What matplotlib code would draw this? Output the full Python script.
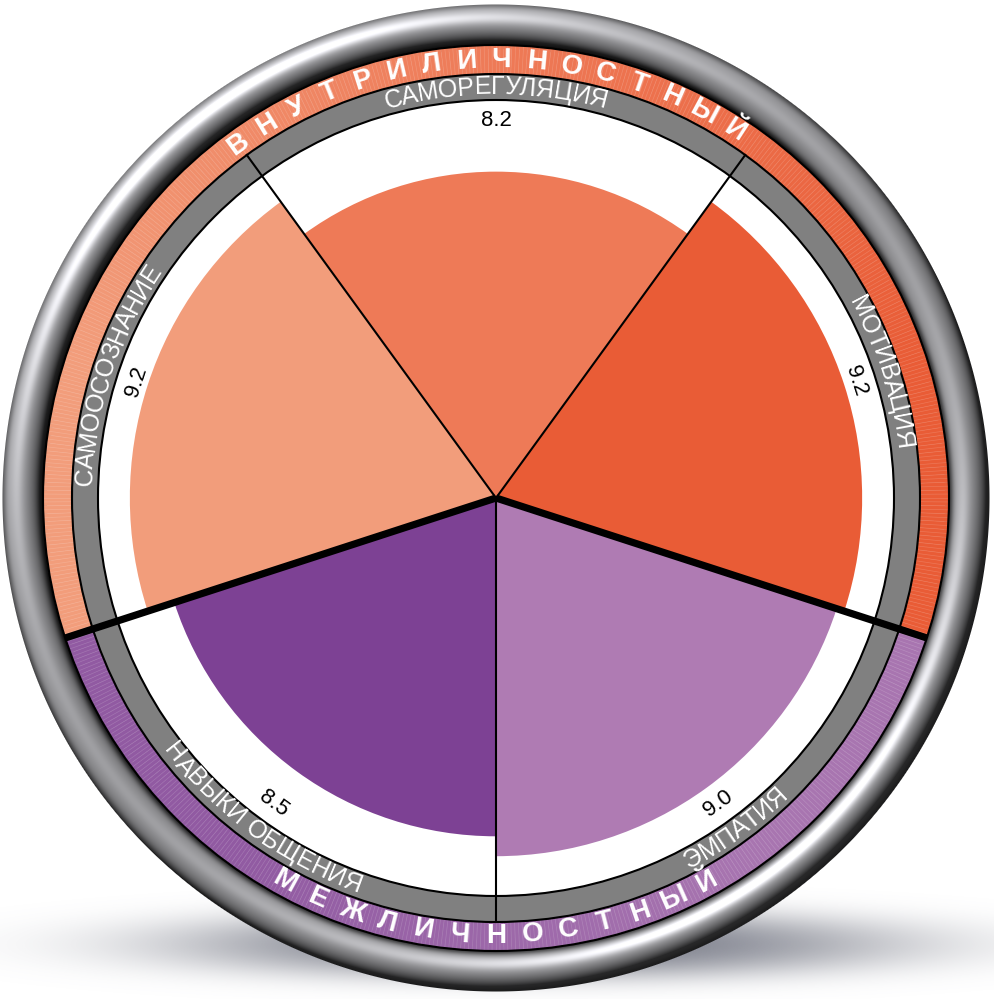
import numpy as np
import matplotlib.pyplot as plt
from matplotlib.patches import Wedge, Circle
from matplotlib.collections import LineCollection
from matplotlib.font_manager import FontProperties
from matplotlib.colors import to_rgb

# Daten
CATEGORIES = ["САМОРЕГУЛЯЦИЯ", "МОТИВАЦИЯ", "ЭМПАТИЯ", "НАВЫКИ ОБЩЕНИЯ", "САМООСОЗНАНИЕ"]
VALUES = [8.2, 9.2, 9.0, 8.5, 9.2]
COLORS = ["#EE7A57", "#E95C36", "#AF7BB3", "#7D4194", "#F29D7B"]
GROUPS = ["ВНУТРИЛИЧНОСТНЫЙ", "МЕЖЛИЧНОСТНЫЙ"]
GROUP_OF = [0, 0, 1, 1, 0]
VALUE_MAX = 10.0

# Geometrie in Pixeln, Mitte = (0, 0)
R_MAX = 398
R_GRAY = 424
R_RING = 453
R_BEZEL = 494
R_VALUE = 378
R_LABEL = 411
R_GROUP = 438

N = len(CATEGORIES)
STEP = 360.0 / N
MIDS = [i * STEP for i in range(N)]   # im Uhrzeigersinn ab oben


def pos(theta, r):
    t = np.radians(theta)
    return r * np.sin(t), r * np.cos(t)


def is_flipped(theta):
    return 90 < theta % 360 < 270


fig = plt.figure(figsize=(9.95, 9.99), dpi=100)
ax = fig.add_axes([0, 0, 1, 1])
renderer = fig.canvas.get_renderer()


def text_width(s, fp):
    return renderer.get_text_width_height_descent(s, fp, ismath=False)[0]


# Schatten unten
xs = np.linspace(-496, 499, 600)
ys = np.linspace(-501, 498, 600)
X, Y = np.meshgrid(xs, ys)
d2 = ((X - 40) / 490) ** 2 + ((Y + 447) / 46) ** 2
shadow = np.zeros((600, 600, 4))
shadow[..., :3] = np.array([112, 115, 128]) / 255
shadow[..., 3] = 0.9 * np.exp(-2.3 * d2 ** 1.4)
ax.imshow(shadow, extent=(-496, 499, -501, 498), origin="lower", zorder=0, interpolation="bilinear")

# Metallring
xs = np.linspace(-500, 500, 1000)
X, Y = np.meshgrid(xs, xs)
R = np.hypot(X, Y) + 1e-9
ux, uy = X / R, Y / R
t = np.clip((R - R_RING) / (R_BEZEL - R_RING), 0, 1)
s = 2 * t - 1
nz = np.sqrt(np.clip(1 - s ** 2, 0, 1))
L = np.array([-0.45, 0.6, 0.66])
L = L / np.linalg.norm(L)
ndl = s * ux * L[0] + s * uy * L[1] + nz * L[2]
H = L + np.array([0, 0, 1.0])
H = H / np.linalg.norm(H)
ndh = s * ux * H[0] + s * uy * H[1] + nz * H[2]
shade = 0.16 + 0.64 * np.clip(ndl, 0, 1) + 0.4 * np.clip(ndh, 0, 1) ** 25
shade *= 1 - 0.65 * np.exp(-(t / 0.12) ** 2)
shade *= 1 - 0.3 * np.exp(-((1 - t) / 0.1) ** 2)
bezel = np.zeros((1000, 1000, 4))
bezel[..., 0] = np.clip(shade, 0, 1)
bezel[..., 1] = np.clip(shade, 0, 1)
bezel[..., 2] = np.clip(shade * 1.02, 0, 1)
bezel[..., 3] = np.clip(R_BEZEL - R + 0.5, 0, 1) * np.clip(R - (R_RING - 4), 0, 1)
ax.imshow(bezel, extent=(-500, 500, -500, 500), origin="lower", zorder=1, interpolation="bilinear")

# Grundflächen
ax.add_patch(Circle((0, 0), R_MAX, facecolor="white", edgecolor="none", zorder=2))
ax.add_patch(Wedge((0, 0), R_GRAY, 0, 360, width=R_GRAY - R_MAX, facecolor="#808080",
                   edgecolor="none", zorder=2))

# farbiger Außenring, Verlauf pro Gruppe
group_info = []
for g in range(len(GROUPS)):
    idx = [i for i in range(N) if GROUP_OF[i] == g]
    a = np.radians([MIDS[i] for i in idx])
    center = np.degrees(np.arctan2(np.sin(a).sum(), np.cos(a).sum())) % 360
    rel = [((MIDS[i] - center + 180) % 360) - 180 for i in idx]
    order = np.argsort(rel)
    rel = np.array(rel)[order]
    cols = np.array([to_rgb(COLORS[idx[k]]) for k in order])
    if g == 1:
        cols = 0.5 * cols + 0.5 * cols.mean(axis=0)
        cols = 0.94 * cols + 0.06
    span = len(idx) * STEP
    group_info.append((center, span))
    for phi in np.arange(-span / 2, span / 2, 1.0):
        c = [np.interp(phi + 0.5, rel, cols[:, k]) for k in range(3)]
        th1 = 90 - (center + phi + 1.0)
        ax.add_patch(Wedge((0, 0), R_RING, th1, th1 + 1.0, width=R_RING - R_GRAY,
                           facecolor=c, edgecolor=c, linewidth=0.4, zorder=2))

# feine Streifen im Außenring
segs = []
for phi in np.arange(0, 360, 0.5):
    segs.append([pos(phi, R_GRAY), pos(phi, R_RING)])
ax.add_collection(LineCollection(segs, colors="white", alpha=0.16, linewidths=0.5, zorder=3))

# Sektoren
for i in range(N):
    r = VALUES[i] / VALUE_MAX * R_MAX
    ax.add_patch(Wedge((0, 0), r, 90 - (MIDS[i] + STEP / 2), 90 - (MIDS[i] - STEP / 2),
                       facecolor=COLORS[i], edgecolor="none", zorder=4))

# Kreise
for r in [R_MAX, R_GRAY, R_RING]:
    ax.add_patch(Circle((0, 0), r, facecolor="none", edgecolor="black", linewidth=1.5, zorder=5))

# Trennlinien
for i in range(N):
    b = MIDS[i] + STEP / 2
    if GROUP_OF[i] != GROUP_OF[(i + 1) % N]:
        x, y = pos(b, R_RING)
        ax.plot([0, x], [0, y], color="black", linewidth=5.2, solid_capstyle="butt", zorder=6)
    else:
        x, y = pos(b, R_GRAY)
        ax.plot([0, x], [0, y], color="black", linewidth=1.5, zorder=5)

# Beschriftungen
fp_label = FontProperties(family="Liberation Sans", size=18)
fp_value = FontProperties(family="Liberation Sans", size=16)
fp_group = FontProperties(family="Liberation Sans", size=20, weight="bold")


def curved_text(text, theta, r, fp, color):
    flip = is_flipped(theta)
    total = text_width(text, fp)
    for i, ch in enumerate(text):
        if ch == " ":
            continue
        c = text_width(text[:i + 1], fp) - text_width(ch, fp) / 2 - total / 2
        d = np.degrees(c / r)
        phi = theta - d if flip else theta + d
        x, y = pos(phi, r)
        rot = 180 - phi if flip else -phi
        ax.text(x, y, ch, rotation=rot, rotation_mode="anchor", ha="center", va="center",
                fontproperties=fp, color=color, zorder=7)


for i in range(N):
    curved_text(CATEGORIES[i], MIDS[i], R_LABEL, fp_label, "white")
    x, y = pos(MIDS[i], R_VALUE)
    rot = 180 - MIDS[i] if is_flipped(MIDS[i]) else -MIDS[i]
    ax.text(x, y, f"{VALUES[i]:.1f}", rotation=rot, rotation_mode="anchor", ha="center",
            va="center", fontproperties=fp_value, color="black", zorder=7)

for g, name in enumerate(GROUPS):
    center, span = group_info[g]
    flip = is_flipped(center)
    gap = 4.8 if flip else 4.6
    shift = 0.0 if flip else -1.6
    n = len(name)
    for k, ch in enumerate(name):
        off = (k - (n - 1) / 2) * gap
        phi = center - off if flip else center + off + shift
        x, y = pos(phi, R_GROUP)
        rot = 180 - phi if flip else -phi
        ax.text(x, y, ch, rotation=rot, rotation_mode="anchor", ha="center", va="center",
                fontproperties=fp_group, color="white", zorder=7)

ax.set_xlim(-496, 499)
ax.set_ylim(-501, 498)
ax.axis("off")
fig.savefig("out.png", dpi=100, facecolor="white")
